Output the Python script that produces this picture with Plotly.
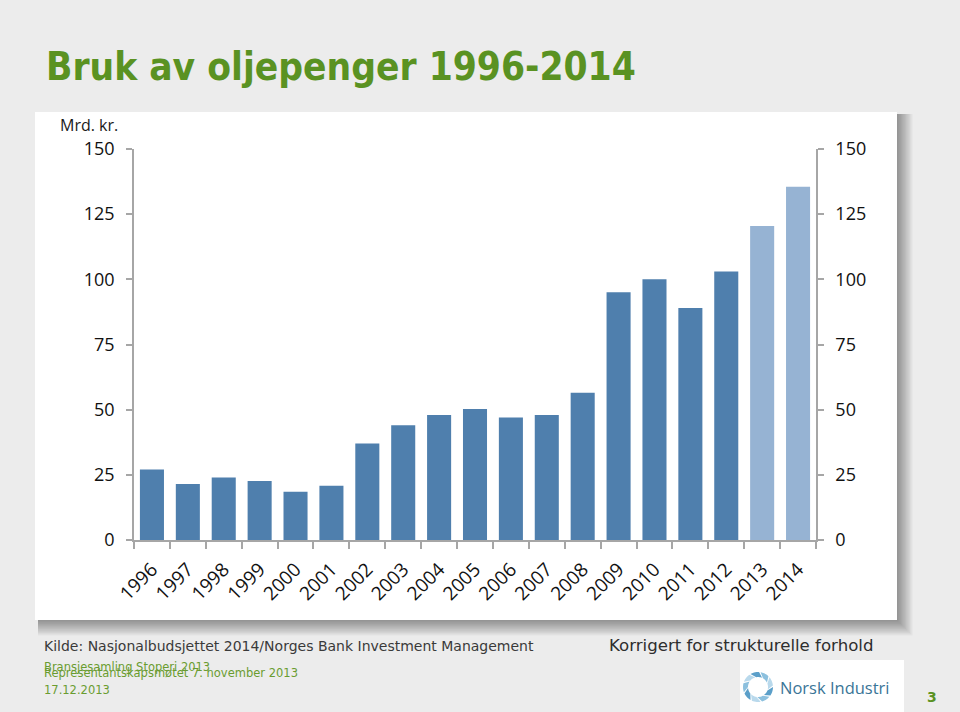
import numpy as np
import plotly.graph_objects as go

# ---------------- data ----------------
years = ["1996", "1997", "1998", "1999", "2000", "2001", "2002", "2003", "2004", "2005",
         "2006", "2007", "2008", "2009", "2010", "2011", "2012", "2013", "2014"]
values = [27, 21.5, 24, 22.6, 18.5, 20.8, 37, 44, 48, 50.3,
          47, 48, 56.5, 95, 100, 89, 103, 120.5, 135.5]
kind = ["actual"] * 17 + ["estimate"] * 2
y_ticks = [0, 25, 50, 75, 100, 125, 150]

title_text = "Bruk av oljepenger 1996-2014"
unit_text = "Mrd. kr."
source_text = "Kilde: Nasjonalbudsjettet 2014/Norges Bank Investment Management"
note_text = "Korrigert for strukturelle forhold"
footer_a = "Bransjesamling Stoperi 2013"
footer_b = "Representantskapsmøtet 7. november 2013"
footer_date = "17.12.2013"
logo_text = "Norsk Industri"
page_no = "3"

W, H = 960, 712
def px(x): return x / W
def py(y): return 1 - y / H

col_map = {"actual": "#4f7fad", "estimate": "#96b3d3"}
bar_colors = [col_map[k] for k in kind]

fig = go.Figure()
fig.add_trace(go.Bar(x=years, y=values, marker=dict(color=bar_colors, line=dict(width=0)),
                     hoverinfo="x+y", showlegend=False))
# invisible trace so the right axis is drawn
fig.add_trace(go.Scatter(x=years, y=values, yaxis="y2", mode="markers",
                         marker=dict(opacity=0), hoverinfo="skip", showlegend=False))

axis_col = "#a6a6a6"
tick_font = dict(family="Open Sans, Liberation Sans, sans-serif", size=18, color="#111111")
xtick_font = dict(family="Open Sans, Liberation Sans, sans-serif", size=19, color="#111111")
ydom = [py(540), py(149)]

fig.update_layout(
    width=W, height=H,
    margin=dict(l=0, r=0, t=0, b=0, pad=0, autoexpand=False),
    paper_bgcolor="#ececec",
    plot_bgcolor="rgba(0,0,0,0)",
    bargap=0.33,
    xaxis=dict(domain=[px(134), px(816)], type="category", tickangle=-45,
               range=[-0.5, len(years) - 0.5],
               showline=True, linecolor=axis_col, linewidth=1.5,
               ticks="outside", tickson="boundaries", ticklen=7, tickcolor=axis_col, tickwidth=1.5,
               tickfont=xtick_font, ticklabelstandoff=9,
               showgrid=False, zeroline=False, fixedrange=True),
    yaxis=dict(domain=ydom, range=[0, 150], tickvals=y_ticks,
               showline=True, linecolor=axis_col, linewidth=1.5,
               ticks="outside", ticklen=6, tickcolor=axis_col, tickwidth=1.5,
               tickfont=tick_font, showgrid=False, zeroline=False, ticklabelstandoff=8),
    yaxis2=dict(domain=ydom, range=[0, 150], tickvals=y_ticks, overlaying="y", side="right",
                anchor="x", showline=True, linecolor=axis_col, linewidth=1.5,
                ticks="outside", ticklen=6, tickcolor=axis_col, tickwidth=1.5,
                tickfont=tick_font, showgrid=False, zeroline=False, ticklabelstandoff=8),
)

shapes = []
# panel shadow
for k in range(1, 13):
    shapes.append(dict(type="rect", xref="paper", yref="paper", layer="below",
                       x0=px(35 + 3), x1=px(897 + k * 1.3), y0=py(620 + k * 1.3), y1=py(112 + 2),
                       fillcolor="rgba(0,0,0,0.035)", line=dict(width=0)))
# white panel
shapes.append(dict(type="rect", xref="paper", yref="paper", layer="below",
                   x0=px(35), x1=px(897), y0=py(620), y1=py(112),
                   fillcolor="white", line=dict(width=0)))
# logo box
shapes.append(dict(type="rect", xref="paper", yref="paper", layer="below",
                   x0=px(740), x1=px(904), y0=py(712), y1=py(660),
                   fillcolor="white", line=dict(width=0)))
# logo swirl icon: curved blades around a circle
cx, cy, R = 758, 687, 15
for i in range(9):
    a0 = np.deg2rad(i * 40)
    ts = np.linspace(0, np.deg2rad(34), 8)
    outer = [(cx + R * np.cos(a0 + t), cy + R * np.sin(a0 + t)) for t in ts]
    inner = [(cx + (R - 5) * np.cos(a0 + t + 0.35), cy + (R - 5) * np.sin(a0 + t + 0.35)) for t in ts[::-1]]
    pts = outer + inner
    path = "M " + " L ".join(f"{px(x):.5f},{py(y):.5f}" for x, y in pts) + " Z"
    shade = ["#5b9fc9", "#8cc0de", "#b9d9ec"][i % 3]
    shapes.append(dict(type="path", xref="paper", yref="paper", path=path,
                       fillcolor=shade, line=dict(width=0)))
fig.update_layout(shapes=shapes)

ann = []
def text(x, y, s, size, color, family="DejaVu Sans, Verdana, sans-serif", xanchor="left", yanchor="middle", bold=False):
    ann.append(dict(xref="paper", yref="paper", x=px(x), y=py(y), text=(f"<b>{s}</b>" if bold else s),
                    showarrow=False, xanchor=xanchor, yanchor=yanchor,
                    font=dict(family=family, size=size, color=color)))

text(44, 66, title_text, 38.5, "#5a9222", family="DejaVu Sans Condensed, DejaVu Sans, sans-serif", bold=True)
text(58, 125, unit_text, 16, "#1a1a1a", family="Open Sans, Liberation Sans, sans-serif")
text(42, 646, source_text, 14, "#3a3a3a")
text(607, 645, note_text, 16.6, "#2e2e2e")
text(42, 667, footer_a, 11.5, "#6a9c30")
text(42, 673, footer_b, 11.5, "#6a9c30")
text(42, 690, footer_date, 11.5, "#6a9c30")
text(778, 687, logo_text, 16.5, "#3a7597", family="Open Sans, Liberation Sans, sans-serif")
text(932, 697, page_no, 14, "#5a9222", xanchor="center", bold=True)
fig.update_layout(annotations=ann)

fig.write_html("out.html", config={"displayModeBar": False},
               post_script="document.body.style.margin='0';document.body.style.overflow='hidden';")
